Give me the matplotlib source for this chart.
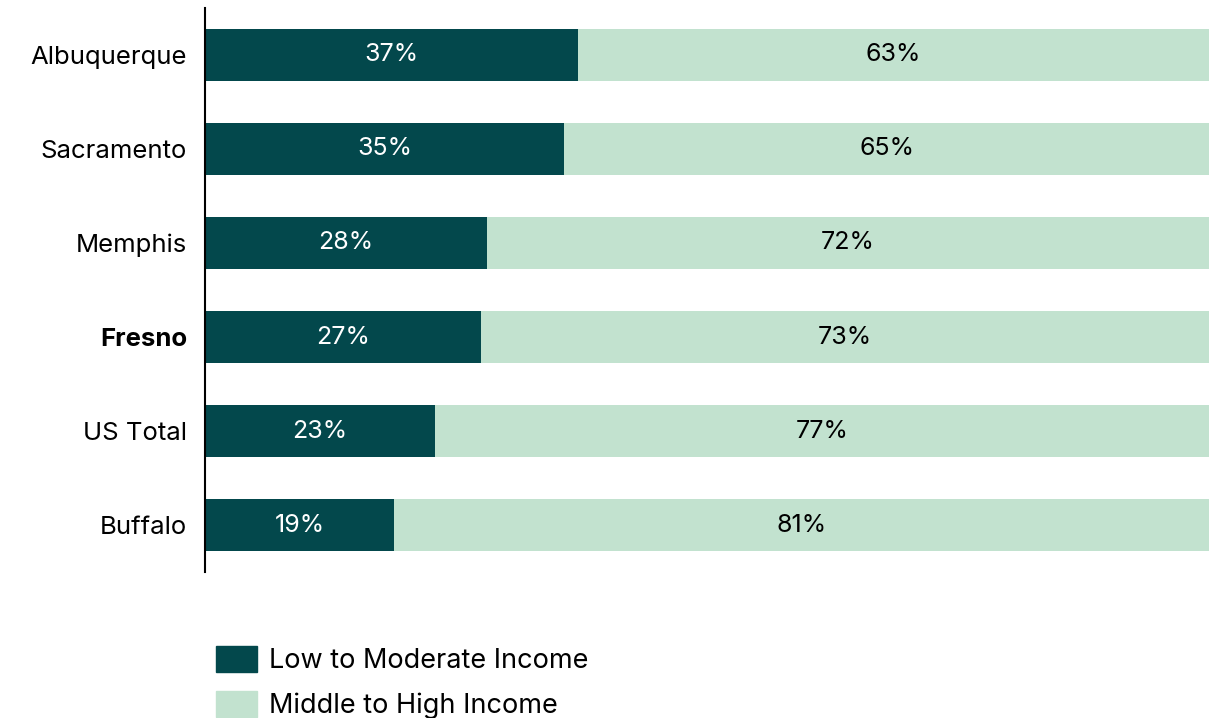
import matplotlib.pyplot as plt
from matplotlib.patches import Patch

cities = ["Albuquerque", "Sacramento", "Memphis", "Fresno", "US Total", "Buffalo"]
# shares as measured from bar lengths
low_mod = [37.1, 35.8, 28.1, 27.5, 22.9, 18.8]
mid_high = [62.9, 64.2, 71.9, 72.5, 77.1, 81.2]
# labels as printed on the chart
low_mod_labels = ["37%", "35%", "28%", "27%", "23%", "19%"]
mid_high_labels = ["63%", "65%", "72%", "73%", "77%", "81%"]
series_names = ["Low to Moderate Income", "Middle to High Income"]

dark = "#03484C"
light = "#C2E2CF"

plt.rcParams['font.family'] = ['Inter', 'DejaVu Sans']

fig = plt.figure(figsize=(12.09, 7.18), dpi=100)
ax = fig.add_axes([0.1696, 0.2033, 0.8304, 0.7856])

y = list(range(len(cities)))
ax.barh(y, low_mod, height=0.55, color=dark)
ax.barh(y, mid_high, left=low_mod, height=0.55, color=light)

for i in y:
    ax.text(low_mod[i] / 2, i, low_mod_labels[i], ha='center', va='center',
            color='white', fontsize=18)
    ax.text(low_mod[i] + mid_high[i] / 2, i, mid_high_labels[i], ha='center',
            va='center', color='black', fontsize=18)

ax.set_xlim(0, 100)
ax.set_ylim(len(cities) - 0.5, -0.5)
ax.set_yticks(y)
ax.set_yticklabels(cities, fontsize=18.5)
ax.get_yticklabels()[cities.index("Fresno")].set_fontweight('bold')
ax.tick_params(axis='y', length=0, pad=13)
ax.set_xticks([])
for s in ['top', 'right', 'bottom']:
    ax.spines[s].set_visible(False)
ax.spines['left'].set_linewidth(1.5)

handles = [Patch(color=dark), Patch(color=light)]
fig.legend(handles, series_names, loc='upper left', bbox_to_anchor=(0.179, 0.1),
           frameon=False, fontsize=19.5, handlelength=1.5, handleheight=1.1,
           handletextpad=0.45, labelspacing=0.6, borderaxespad=0, borderpad=0)

fig.savefig("out.png", dpi=100)
